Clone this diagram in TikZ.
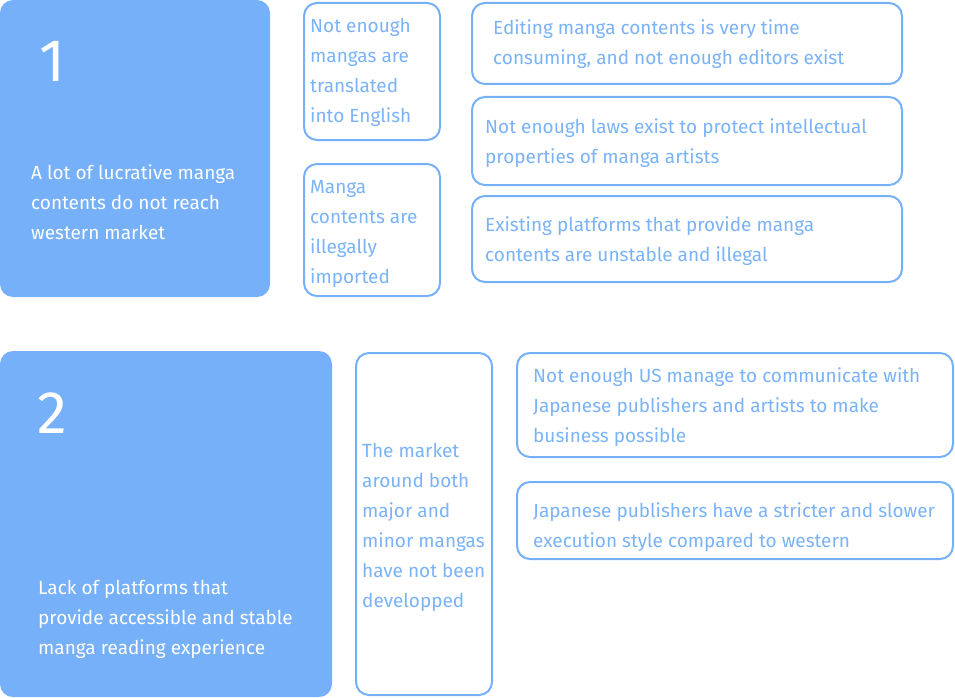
\documentclass[tikz,border=0pt]{standalone}
\usepackage{fontspec}
\setmainfont{Fira Sans}
\definecolor{mblue}{RGB}{118,176,248}
\definecolor{tblue}{RGB}{122,179,248}
\tikzset{
  solidbox/.style={fill=mblue, draw=none, rounded corners=13pt, anchor=north west, inner sep=0pt, outer sep=0pt},
  linebox/.style={draw=mblue, line width=2pt, rounded corners=13pt, fill=white, anchor=north west, inner sep=0pt, outer sep=0pt},
  bigdigit/.style={text=white, font=\fontsize{60}{60}\selectfont, inner sep=0pt, anchor=base west},
  wtext/.style={text=white, font=\fontsize{19}{30}\selectfont, align=left, inner sep=0pt, anchor=base west},
  btext/.style={text=tblue, font=\fontsize{19}{30}\selectfont, align=left, inner sep=0pt, anchor=base west}
}
\begin{document}
\begin{tikzpicture}[x=1pt,y=-1pt]
\useasboundingbox (0,0) rectangle (955,698);
% group 1
\node[solidbox, minimum width=270pt, minimum height=297pt] (b1) at (0,0) {};
\node[bigdigit] (n1) at (39,82) {1};
\node[wtext] (t1) at (31,239) {A lot of lucrative manga\\contents do not reach\\western market};
\node[linebox, minimum width=136pt, minimum height=137pt] (c1) at (304,3) {};
\node[btext] (ct1) at (310,123) {Not enough\\mangas are\\translated\\into English};
\node[linebox, minimum width=136pt, minimum height=132pt] (c2) at (304,164) {};
\node[btext] (ct2) at (310,283) {Manga\\contents are\\illegally\\imported};
\node[linebox, minimum width=430pt, minimum height=81pt] (d1) at (472,3) {};
\node[btext] (dt1) at (493,65) {Editing manga contents is very time\\consuming, and not enough editors exist};
\node[linebox, minimum width=430pt, minimum height=88pt] (d2) at (472,97) {};
\node[btext] (dt2) at (485,163) {Not enough laws exist to protect intellectual\\properties of manga artists};
\node[linebox, minimum width=430pt, minimum height=86pt] (d3) at (472,196) {};
\node[btext] (dt3) at (485,261) {Existing platforms that provide manga\\contents are unstable and illegal};
% group 2
\node[solidbox, minimum width=332pt, minimum height=346pt] (b2) at (0,351) {};
\node[bigdigit] (n2) at (37,433) {2};
\node[wtext] (t2) at (38,654) {Lack of platforms that\\provide accessible and stable\\manga reading experience};
\node[linebox, minimum width=136pt, minimum height=342pt] (e1) at (356,353) {};
\node[btext] (et1) at (362,607) {The market\\around both\\major and\\minor mangas\\have not been\\developped};
\node[linebox, minimum width=436pt, minimum height=104pt] (f1) at (517,353) {};
\node[btext] (ft1) at (533,442) {Not enough US manage to communicate with\\Japanese publishers and artists to make\\business possible};
\node[linebox, minimum width=436pt, minimum height=77pt] (f2) at (517,482) {};
\node[btext] (ft2) at (533,547) {Japanese publishers have a stricter and slower\\execution style compared to western};
\end{tikzpicture}
\end{document}
